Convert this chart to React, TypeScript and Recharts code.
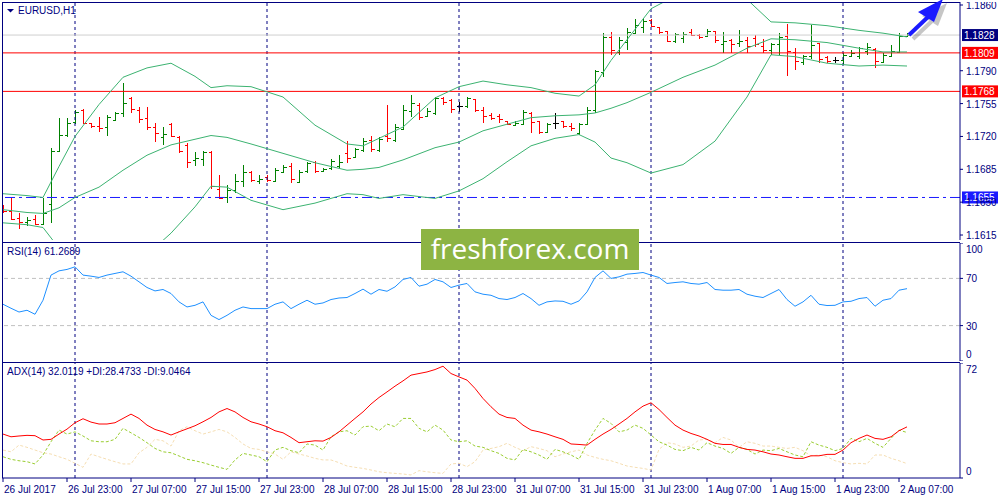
import React from 'react'
import { ComposedChart, Bar, Line, XAxis, YAxis, ReferenceLine } from 'recharts'

const NAVY = '#000080'
const GREEN = '#008000'
const RED = '#ff0000'
const BB = '#3cb371'
const FONT = "'Liberation Sans', Arial, sans-serif"

// EURUSD H1 bars, 26 Jul 15:00 .. 2 Aug 08:00
const opens = [
  1.1643, 1.1641, 1.1633, 1.1629, 1.1632, 1.1627, 1.1648, 1.1704, 1.1722, 1.1735,
  1.1748, 1.1734, 1.1731, 1.1730, 1.1738, 1.1745, 1.1761, 1.1748, 1.1740, 1.1730,
  1.1719, 1.1733, 1.1719, 1.1711, 1.1695, 1.1696, 1.1703, 1.1664, 1.1655, 1.1663,
  1.1673, 1.1682, 1.1673, 1.1677, 1.1673, 1.1682, 1.1689, 1.1671, 1.1683, 1.1693,
  1.1683, 1.1686, 1.1688, 1.1702, 1.1698, 1.1706, 1.1716, 1.1706, 1.1721, 1.1716,
  1.1728, 1.1747, 1.1754, 1.1742, 1.1745, 1.1761, 1.1759, 1.1752, 1.1752, 1.1760,
  1.1748, 1.1743, 1.1742, 1.1736, 1.1732, 1.1733, 1.1745, 1.1736, 1.1725, 1.1734,
  1.1736, 1.1731, 1.1724, 1.1733, 1.1748, 1.1789, 1.1826, 1.1810, 1.1821, 1.1830,
  1.1837, 1.1844, 1.1837, 1.1832, 1.1822, 1.1825, 1.1831, 1.1828, 1.1827, 1.1832,
  1.1818, 1.1823, 1.1820, 1.1823, 1.1825, 1.1816, 1.1812, 1.1818, 1.1827, 1.1810,
  1.1799, 1.1806, 1.1820, 1.1805, 1.1801, 1.1801, 1.1806, 1.1806, 1.1811, 1.1813,
  1.1799, 1.1806, 1.1810, 1.1827,
]
const highs = [
  1.1647, 1.1654, 1.1638, 1.1634, 1.1636, 1.1654, 1.1708, 1.1740, 1.1740, 1.1748,
  1.1749, 1.1734, 1.1741, 1.1743, 1.1746, 1.1777, 1.1762, 1.1751, 1.1751, 1.1734,
  1.1730, 1.1734, 1.1721, 1.1713, 1.1703, 1.1704, 1.1704, 1.1679, 1.1668, 1.1680,
  1.1690, 1.1683, 1.1679, 1.1679, 1.1686, 1.1690, 1.1692, 1.1684, 1.1693, 1.1694,
  1.1686, 1.1696, 1.1700, 1.1715, 1.1708, 1.1718, 1.1721, 1.1719, 1.1753, 1.1733,
  1.1753, 1.1764, 1.1756, 1.1750, 1.1762, 1.1762, 1.1760, 1.1757, 1.1762, 1.1760,
  1.1751, 1.1745, 1.1744, 1.1736, 1.1736, 1.1748, 1.1746, 1.1736, 1.1734, 1.1745,
  1.1736, 1.1734, 1.1734, 1.1751, 1.1791, 1.1830, 1.1831, 1.1826, 1.1836, 1.1845,
  1.1846, 1.1845, 1.1837, 1.1832, 1.1830, 1.1831, 1.1834, 1.1829, 1.1834, 1.1832,
  1.1831, 1.1824, 1.1833, 1.1826, 1.1828, 1.1824, 1.1820, 1.1830, 1.1840, 1.1814,
  1.1807, 1.1839, 1.1820, 1.1806, 1.1805, 1.1809, 1.1812, 1.1815, 1.1820, 1.1814,
  1.1809, 1.1817, 1.1830, 1.1830,
]
const lows = [
  1.1638, 1.1631, 1.1621, 1.1625, 1.1626, 1.1626, 1.1628, 1.1703, 1.1719, 1.1733,
  1.1733, 1.1729, 1.1725, 1.1721, 1.1736, 1.1741, 1.1745, 1.1734, 1.1727, 1.1714,
  1.1711, 1.1719, 1.1702, 1.1686, 1.1688, 1.1689, 1.1664, 1.1653, 1.1649, 1.1660,
  1.1666, 1.1671, 1.1669, 1.1672, 1.1673, 1.1681, 1.1670, 1.1670, 1.1681, 1.1681,
  1.1682, 1.1684, 1.1686, 1.1692, 1.1697, 1.1703, 1.1703, 1.1703, 1.1714, 1.1714,
  1.1727, 1.1741, 1.1738, 1.1741, 1.1743, 1.1753, 1.1745, 1.1746, 1.1750, 1.1746,
  1.1734, 1.1738, 1.1734, 1.1732, 1.1731, 1.1732, 1.1724, 1.1723, 1.1724, 1.1728,
  1.1729, 1.1726, 1.1722, 1.1732, 1.1745, 1.1783, 1.1807, 1.1807, 1.1812, 1.1830,
  1.1830, 1.1837, 1.1829, 1.1821, 1.1820, 1.1820, 1.1827, 1.1824, 1.1826, 1.1820,
  1.1809, 1.1809, 1.1815, 1.1809, 1.1815, 1.1809, 1.1807, 1.1807, 1.1784, 1.1791,
  1.1796, 1.1803, 1.1798, 1.1798, 1.1798, 1.1796, 1.1805, 1.1803, 1.1807, 1.1793,
  1.1798, 1.1805, 1.1809, 1.1826,
]
const closes = [
  1.1641, 1.1632, 1.1629, 1.1631, 1.1627, 1.1638, 1.1704, 1.1722, 1.1734, 1.1746,
  1.1734, 1.1731, 1.1729, 1.1741, 1.1745, 1.1756, 1.1749, 1.1739, 1.1730, 1.1724,
  1.1723, 1.1721, 1.1704, 1.1693, 1.1697, 1.1703, 1.1667, 1.1654, 1.1663, 1.1673,
  1.1682, 1.1674, 1.1675, 1.1674, 1.1684, 1.1687, 1.1675, 1.1682, 1.1692, 1.1683,
  1.1685, 1.1694, 1.1693, 1.1697, 1.1707, 1.1715, 1.1707, 1.1717, 1.1718, 1.1730,
  1.1748, 1.1756, 1.1741, 1.1747, 1.1761, 1.1757, 1.1749, 1.1752, 1.1761, 1.1748,
  1.1742, 1.1740, 1.1739, 1.1733, 1.1734, 1.1746, 1.1735, 1.1725, 1.1733, 1.1734,
  1.1731, 1.1729, 1.1733, 1.1748, 1.1790, 1.1826, 1.1812, 1.1823, 1.1831, 1.1839,
  1.1843, 1.1838, 1.1831, 1.1822, 1.1829, 1.1829, 1.1828, 1.1826, 1.1832, 1.1823,
  1.1822, 1.1818, 1.1822, 1.1816, 1.1818, 1.1812, 1.1818, 1.1826, 1.1811, 1.1800,
  1.1806, 1.1817, 1.1803, 1.1800, 1.1801, 1.1807, 1.1809, 1.1814, 1.1815, 1.1800,
  1.1807, 1.1811, 1.1827, 1.1828,
]

// Bollinger bands (20, 2), read at selected bars
const bbBars = [0, 3, 5, 7, 9, 12, 15, 18, 21, 24, 26, 28, 31, 35, 39, 43, 45, 47, 50, 54, 57, 60, 63, 66, 69, 72, 74, 76, 78, 81, 85, 89, 93, 96, 99, 103, 107, 110, 113]
const bbUpper = [1.1659, 1.1657, 1.1655, 1.1688, 1.1720, 1.1754, 1.1783, 1.1793, 1.1798, 1.1784, 1.1772, 1.1774, 1.1773, 1.1762, 1.1732, 1.1712, 1.1710, 1.1718, 1.1730, 1.1761, 1.1773, 1.1779, 1.1775, 1.1772, 1.1766, 1.1763, 1.1775, 1.1801, 1.1823, 1.1856, 1.1874, 1.1877, 1.1866, 1.1842, 1.1841, 1.1838, 1.1833, 1.1830, 1.1826]
const bbMiddle = [1.1642, 1.1639, 1.1638, 1.1644, 1.1655, 1.1666, 1.1684, 1.1700, 1.1711, 1.1717, 1.1721, 1.1719, 1.1712, 1.1702, 1.1692, 1.1684, 1.1685, 1.1687, 1.1695, 1.1708, 1.1714, 1.1726, 1.1733, 1.1740, 1.1742, 1.1743, 1.1745, 1.1750, 1.1756, 1.1767, 1.1783, 1.1796, 1.1814, 1.1824, 1.1823, 1.1820, 1.1814, 1.1810, 1.1810]
const bbLower = [1.1628, 1.1626, 1.1623, 1.1601, 1.1586, 1.1576, 1.1572, 1.1594, 1.1617, 1.1645, 1.1667, 1.1666, 1.1652, 1.1642, 1.1649, 1.1659, 1.1658, 1.1654, 1.1658, 1.1654, 1.1662, 1.1675, 1.1693, 1.1710, 1.1718, 1.1722, 1.1714, 1.1697, 1.1692, 1.1681, 1.1690, 1.1715, 1.1762, 1.1807, 1.1805, 1.1798, 1.1795, 1.1796, 1.1795]

const rsi = [
  48.1, 44.7, 41.5, 43, 39.6, 51.5, 72.8, 76.4, 77.6, 79.8, 72.8, 71.9, 70.8, 72.8, 74.2, 75.6,
  71.9, 67.1, 62.3, 59.4, 60.6, 57.2, 50.1, 45.8, 47.2, 50.1, 38.7, 35.1, 38.7, 43, 45.8, 44.4,
  44.4, 44.4, 48.1, 50.1, 44.4, 48.1, 51.5, 48.1, 49.2, 52.1, 53.4, 53.8, 57.2, 60.9, 56.6, 60.6,
  59.1, 62.8, 69.1, 70.8, 63.4, 65.1, 69.1, 67.1, 62.3, 64.3, 65.7, 58.6, 56.6, 55.7, 52.9,
  52.1, 53.8, 57.2, 52.9, 47.2, 50.1, 50.9, 50.6, 48.1, 50.9, 58.6, 70.8, 76.4, 70, 71.3, 73.6,
  74.2, 75.0, 72.8, 70.8, 65.7, 66.5, 67.1, 65.7, 65.1, 66.5, 60.6, 60, 60, 60.6, 56.6, 54.9,
  53.8, 57.2, 60.6, 52.1, 46.4, 50.1, 55.7, 48.1, 47.0, 47.2, 50.1, 50.6, 52.9, 53.8, 46.4, 51.5,
  52.9, 60, 61.3,
]
const adx = [
  27.5, 25.8, 26.3, 26.7, 26.5, 23.8, 24.2, 27.5, 30.6, 34.6, 37.1, 35, 33.8, 33.8, 34.6, 37.3,
  40, 37.3, 33.1, 30.4, 28.9, 26.9, 28.9, 30.8, 32.7, 35.2, 37.9, 41.4, 43.5, 41.4, 37.9, 35.2,
  33.8, 32.1, 29.6, 28.3, 25.4, 22.1, 22.7, 23.3, 23.1, 25.4, 28.9, 33.1, 37.3, 41.4, 46.3, 50.4,
  53.9, 57.5, 60.8, 64.4, 65.4, 66.4, 67.9, 70, 65.4, 63.3, 61.3, 56.1, 49.8, 44.6, 40,
  37.9, 37.3, 33.1, 30, 28.9, 27.5, 25.8, 24.2, 21.3, 21.0, 20.6, 24.2, 27.5, 30.4, 33.8, 37.3,
  41.4, 45, 47.1, 42.9, 37.9, 33.1, 30, 27.9, 26.3, 24.2, 21.7, 21.0, 21.0, 19.2, 17.9, 17.5,
  16.4, 15.0, 14.4, 13.3, 12.3, 12.3, 13.9, 13.9, 14.8, 14.8, 17.5, 22.1, 24.8, 26.9, 24.8, 24.2,
  25.8, 29.6, 32.0,
]
const plusDi = [
  13.3, 11.7, 10.8, 10.2, 8.8, 14.4, 22.7, 30, 27.5, 28.9, 26.3, 23.3, 22.7, 22.7, 24.2, 31.1,
  28.3, 25.4, 22.1, 18.5, 16.4, 15.8, 13.8, 11.7, 10.8, 9.6, 8.1, 6.7, 5.4, 11.3, 15.4, 14.4,
  13.3, 10.2, 17.5, 19.2, 17.1, 15.8, 21.3, 20.6, 17.5, 25.8, 28.9, 29.6, 26.9, 32.1, 32.5, 29.6,
  33.8, 32.1, 37.3, 37.3, 31.1, 28.9, 33.1, 30, 23.8, 22.7, 23.3, 20, 19.2, 17.1, 15.4,
  12.3, 11.3, 17.9, 16.4, 14.4, 11.7, 17.9, 16.4, 14.4, 11.7, 21.7, 30, 37.3, 34.2, 28.9, 30,
  33.1, 31.1, 26.9, 22.7, 20.6, 17.9, 17.1, 19.2, 17.5, 22.1, 20, 18.5, 15.4, 19.2, 17.9, 15,
  17.5, 17.1, 18.5, 16.4, 14.4, 13.3, 22.7, 20.6, 19.2, 17.1, 18.5, 24.8, 22.7, 24.8, 21.7, 19.2,
  24.8, 30, 28.5,
]
const minusDi = [
  17.5, 16.4, 20.6, 19.2, 17.5, 15.8, 15, 13.3, 11.7, 9.2, 6.7, 15, 13.3, 11.7, 10.2, 8.8,
  8.8, 15.8, 19.2, 24.2, 23.3, 20, 29.6, 32.1, 29.6, 27.5, 28.9, 30.4, 28.9, 25.4, 21.3, 18.5,
  17.9, 16.4, 15, 11.7, 16.4, 15, 13.8, 12.3, 11.3, 11.3, 9.6, 7.5, 6.7, 6.0, 5.0, 3.9,
  3.3, 2.9, 2.5, 1.9, 4.6, 3.9, 3.3, 2.9, 8.8, 9.2, 7.1, 10.2, 17.5, 18.5, 19.6,
  21.7, 19.2, 17.1, 19.6, 18.5, 17.1, 13.3, 15, 16.4, 17.5, 14.4, 12.9, 11.7, 10.8, 9.2, 7.5,
  6.7, 6.0, 5.0, 17.9, 22.1, 21.3, 19.2, 20, 23.8, 24.2, 22.1, 25.4, 23.8, 19.2, 22.7, 21.7,
  20, 20, 19.2, 18.5, 19.2, 17.1, 13.8, 14.4, 13.3, 10.8, 9.6, 8.8, 9.2, 8.8, 14.4, 14.4,
  12.3, 10.8, 9.0,
]

// day separators (midnight bars) and time axis labels
const daySeparators = [9, 33, 57, 81, 105]
const xTickBars = [0, 8, 16, 24, 32, 40, 48, 56, 64, 72, 80, 88, 96, 104, 112]
const xLabels = [
  '26 Jul 2017', '26 Jul 23:00', '27 Jul 07:00', '27 Jul 15:00', '27 Jul 23:00',
  '28 Jul 07:00', '28 Jul 15:00', '28 Jul 23:00', '31 Jul 07:00', '31 Jul 15:00',
  '31 Jul 23:00', '1 Aug 07:00', '1 Aug 15:00', '1 Aug 23:00', '2 Aug 07:00',
]

const priceTicks = [1.186, 1.179, 1.1755, 1.172, 1.1685, 1.165, 1.1615]
const resistanceLevels = [1.1809, 1.1768]
const supportLevel = 1.1655
const lastPrice = closes[closes.length - 1]

const rows: any[] = closes.map((c, i) => ({
  i,
  o: opens[i],
  h: highs[i],
  l: lows[i],
  c,
  range: [lows[i], highs[i]],
  rsi: rsi[i],
  adx: adx[i],
  pdi: plusDi[i],
  mdi: minusDi[i],
}))
bbBars.forEach((bar, k) => {
  rows[bar].up = bbUpper[k]
  rows[bar].mid = bbMiddle[k]
  rows[bar].low = bbLower[k]
})

const X_DOMAIN = [-0.125, 119.625]

function OhlcBar(props: any) {
  const { x, y, width, height, payload } = props
  if (!payload) return null
  const cx = Math.round(x + width / 2) + 0.5
  const top = Math.min(y, y + height)
  const h = Math.abs(height)
  const span = payload.h - payload.l || 1
  const yOf = (v: number) => Math.round(top + ((payload.h - v) / span) * h) + 0.5
  const color = payload.c > payload.o ? GREEN : payload.c < payload.o ? RED : '#000'
  return (
    <g stroke={color} strokeWidth={1} shapeRendering="crispEdges">
      <line x1={cx} x2={cx} y1={top} y2={top + h} />
      <line x1={cx - 3} x2={cx} y1={yOf(payload.o)} y2={yOf(payload.o)} />
      <line x1={cx} x2={cx + 3} y1={yOf(payload.c)} y2={yOf(payload.c)} />
    </g>
  )
}

function PriceTag(props: any) {
  const { viewBox, price, bg } = props
  if (!viewBox) return null
  const x = viewBox.x + viewBox.width + 2
  const y = viewBox.y
  return (
    <g>
      <rect x={x} y={y - 6} width={36} height={12} fill={bg} />
      <text x={x + 2} y={y + 4} fill="#fff" fontSize={10} fontFamily={FONT}>
        {price.toFixed(4)}
      </text>
    </g>
  )
}

function RightTick(props: any) {
  const { x, y, payload, digits, top, bottom } = props
  const v = payload.value
  const dy = v === top ? 6 : v === bottom ? -7 : 0
  return (
    <g>
      <line x1={x} x2={x + 3} y1={y} y2={y} stroke={NAVY} />
      <text x={x + 6} y={y + dy + 4} fill={NAVY} fontSize={10} fontFamily={FONT}>
        {v.toFixed(digits)}
      </text>
    </g>
  )
}

function TimeTick(props: any) {
  const { x, y, payload } = props
  const k = xTickBars.indexOf(payload.value)
  return (
    <g>
      <line x1={x} x2={x} y1={y} y2={y + 4} stroke={NAVY} />
      <text x={x + 1} y={y + 15} fill={NAVY} fontSize={10} fontFamily={FONT}>
        {xLabels[k]}
      </text>
    </g>
  )
}

const separators = daySeparators.map((d) => (
  <ReferenceLine key={`d${d}`} x={d} stroke={NAVY} strokeDasharray="3 3" />
))

export default function App() {
  return (
    <div style={{ position: 'fixed', left: 0, top: 0, width: 1000, height: 500, background: '#fff', overflow: 'hidden' }}>
      {/* price window */}
      <div style={{ position: 'absolute', left: 2, top: 2 }}>
        <ComposedChart
          width={998}
          height={238}
          data={rows}
          margin={{ top: 0, right: 0, bottom: 0, left: 0 }}
          style={{ overflow: 'visible' }}
        >
          <XAxis dataKey="i" type="number" domain={X_DOMAIN} hide allowDataOverflow />
          <YAxis
            orientation="right"
            width={40}
            domain={[1.16097, 1.18632]}
            allowDataOverflow
            ticks={priceTicks}
            interval={0}
            tickLine={false}
            tickSize={0}
            tickMargin={0}
            axisLine={{ stroke: NAVY }}
            tick={<RightTick digits={4} />}
          />
          {separators}
          <ReferenceLine y={lastPrice} stroke="#cfcfcf" label={<PriceTag price={lastPrice} bg={NAVY} />} />
          {resistanceLevels.map((lv) => (
            <ReferenceLine key={lv} y={lv} stroke={RED} label={<PriceTag price={lv} bg={RED} />} />
          ))}
          <ReferenceLine
            y={supportLevel}
            stroke="#1a1aff"
            strokeDasharray="10 4 3 4"
            label={<PriceTag price={supportLevel} bg="#1a1aff" />}
          />
          <Line dataKey="up" stroke={BB} strokeWidth={1} dot={false} connectNulls isAnimationActive={false} />
          <Line dataKey="mid" stroke={BB} strokeWidth={1} dot={false} connectNulls isAnimationActive={false} />
          <Line dataKey="low" stroke={BB} strokeWidth={1} dot={false} connectNulls isAnimationActive={false} />
          <Bar dataKey="range" barSize={6} isAnimationActive={false} shape={(p: any) => <OhlcBar {...p} />} />
        </ComposedChart>
      </div>

      {/* RSI window */}
      <div style={{ position: 'absolute', left: 2, top: 243 }}>
        <ComposedChart width={998} height={118} data={rows} margin={{ top: 0, right: 0, bottom: 0, left: 0 }}>
          <XAxis dataKey="i" type="number" domain={X_DOMAIN} hide allowDataOverflow />
          <YAxis
            orientation="right"
            width={40}
            domain={[0, 100]}
            ticks={[0, 30, 70, 100]}
            interval={0}
            tickLine={false}
            tickSize={0}
            tickMargin={0}
            axisLine={{ stroke: NAVY }}
            tick={<RightTick digits={0} top={100} bottom={0} />}
          />
          {separators}
          <ReferenceLine y={70} stroke="#c0c0c0" strokeDasharray="4 3" />
          <ReferenceLine y={30} stroke="#c0c0c0" strokeDasharray="4 3" />
          <Line dataKey="rsi" stroke="#1e90ff" strokeWidth={1} dot={false} isAnimationActive={false} />
        </ComposedChart>
      </div>

      {/* ADX window */}
      <div style={{ position: 'absolute', left: 2, top: 363 }}>
        <ComposedChart width={998} height={137} data={rows} margin={{ top: 0, right: 0, bottom: 0, left: 0 }}>
          <XAxis
            dataKey="i"
            type="number"
            domain={X_DOMAIN}
            allowDataOverflow
            height={22}
            ticks={xTickBars}
            interval={0}
            tickLine={false}
            tickSize={0}
            tickMargin={0}
            axisLine={{ stroke: NAVY }}
            tick={<TimeTick />}
          />
          <YAxis
            orientation="right"
            width={40}
            domain={[0, 72]}
            ticks={[0, 72]}
            interval={0}
            tickLine={false}
            tickSize={0}
            tickMargin={0}
            axisLine={{ stroke: NAVY }}
            tick={<RightTick digits={0} top={72} bottom={0} />}
          />
          {separators}
          <Line dataKey="mdi" stroke="#f5deb3" strokeWidth={1} strokeDasharray="3 2" dot={false} isAnimationActive={false} />
          <Line dataKey="pdi" stroke="#9acd32" strokeWidth={1} strokeDasharray="3 2" dot={false} isAnimationActive={false} />
          <Line dataKey="adx" stroke={RED} strokeWidth={1} dot={false} isAnimationActive={false} />
        </ComposedChart>
      </div>

      {/* window frames, titles and the drawn arrow */}
      <svg width={1000} height={500} style={{ position: 'absolute', left: 0, top: 0, pointerEvents: 'none' }}>
        <g stroke={NAVY} strokeWidth={1} shapeRendering="crispEdges">
          <line x1={2} x2={960} y1={2.5} y2={2.5} />
          <line x1={2} x2={960} y1={242.5} y2={242.5} />
          <line x1={2} x2={960} y1={362.5} y2={362.5} />
          <line x1={2.5} x2={2.5} y1={2} y2={478} />
        </g>
        <polygon points="7,9 14,9 10.5,12.5" fill={NAVY} />
        <g fill={NAVY} fontSize={10} fontFamily={FONT}>
          <text x={18} y={14}>EURUSD,H1</text>
          <text x={7} y={255}>RSI(14) 61.2689</text>
          <text x={7} y={375}>ADX(14) 32.0119 +DI:28.4733 -DI:9.0464</text>
        </g>
        <g transform="translate(4,4)" opacity={0.3}>
          <line x1={909} y1={35} x2={929} y2={16} stroke="#444" strokeWidth={4} />
          <polygon points="918,12 943,-1 934,22" fill="#444" />
        </g>
        <line x1={909} y1={35} x2={929} y2={16} stroke="#1a1aff" strokeWidth={4} />
        <polygon points="918,12 943,-1 934,22" fill="#1a1aff" />
      </svg>

      <div
        style={{
          position: 'absolute',
          left: 421,
          top: 229,
          width: 218,
          height: 41,
          background: '#8db443',
          color: '#fff',
          fontFamily: "'Open Sans', sans-serif",
          fontSize: 28,
          lineHeight: '39px',
          textAlign: 'center',
        }}
      >
        freshforex.com
      </div>
    </div>
  )
}
